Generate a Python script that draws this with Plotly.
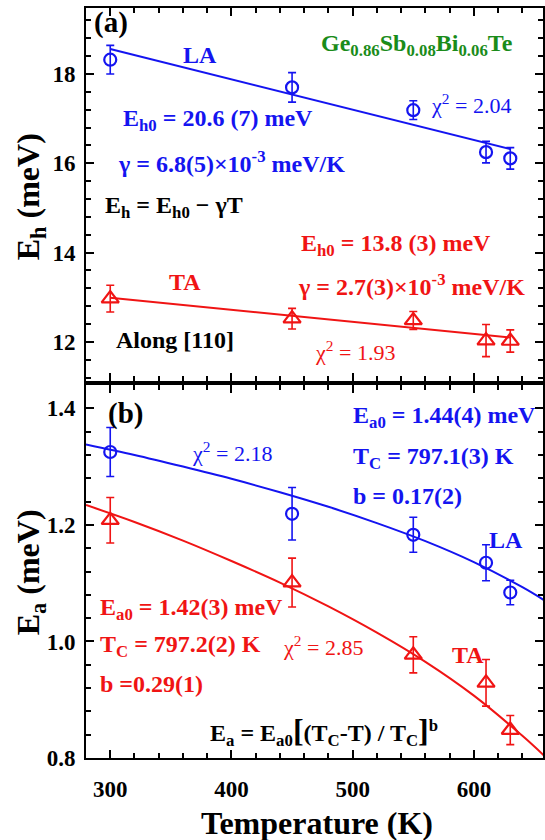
import plotly.graph_objects as go

# ---------------- data ----------------
T_pts = [300, 450, 550, 610, 630]

Eh_LA = [18.32, 17.70, 17.19, 16.25, 16.11]
Eh_LA_err = [0.32, 0.33, 0.21, 0.24, 0.24]
Eh_TA = [12.97, 12.52, 12.48, 12.03, 12.02]
Eh_TA_err = [0.30, 0.23, 0.20, 0.36, 0.25]

Ea_LA = [1.325, 1.219, 1.183, 1.135, 1.084]
Ea_LA_err = [0.042, 0.045, 0.030, 0.031, 0.021]
Ea_TA = [1.208, 1.101, 0.977, 0.929, 0.848]
Ea_TA_err = [0.039, 0.042, 0.031, 0.040, 0.025]

fit_T_lin = [300, 630]
fit_Eh_LA = [18.56, 16.32]
fit_Eh_TA = [12.99, 12.10]

fit_T_curve = [280, 320, 360, 400, 440, 480, 520, 560, 600, 640, 660]
fit_Ea_LA = [1.338, 1.320, 1.300, 1.279, 1.256, 1.231, 1.203, 1.172, 1.136, 1.093, 1.068]
fit_Ea_TA = [1.234, 1.205, 1.173, 1.138, 1.101, 1.060, 1.015, 0.965, 0.907, 0.838, 0.800]

x_ticks = [300, 400, 500, 600]

# ---------------- style ----------------
BLUE = "#1414f0"
RED = "#f01414"
GREEN = "#1a8c1a"
FONT = "Liberation Serif"

W, H = 545, 840
ML, MR, MT, MB = 86, 0, 8, 82
PW = W - ML - MR
PH = H - MT - MB

fig = go.Figure()


def err(vals, color):
    return dict(type="data", array=vals, visible=True, color=color, thickness=1.6, width=4)


# top panel
fig.add_trace(go.Scatter(x=fit_T_lin, y=fit_Eh_LA, mode="lines", line=dict(color=BLUE, width=2),
                         xaxis="x", yaxis="y", showlegend=False))
fig.add_trace(go.Scatter(x=fit_T_lin, y=fit_Eh_TA, mode="lines", line=dict(color=RED, width=2),
                         xaxis="x", yaxis="y", showlegend=False))
fig.add_trace(go.Scatter(x=T_pts, y=Eh_LA, mode="markers", error_y=err(Eh_LA_err, BLUE),
                         marker=dict(symbol="circle-open", size=12, color=BLUE, line=dict(width=2.2, color=BLUE)),
                         xaxis="x", yaxis="y", showlegend=False))
fig.add_trace(go.Scatter(x=T_pts, y=Eh_TA, mode="markers", error_y=err(Eh_TA_err, RED),
                         marker=dict(symbol="triangle-up-open", size=15, color=RED, line=dict(width=2.2, color=RED)),
                         xaxis="x", yaxis="y", showlegend=False))

# bottom panel
fig.add_trace(go.Scatter(x=fit_T_curve, y=fit_Ea_LA, mode="lines", line=dict(color=BLUE, width=2, shape="spline"),
                         xaxis="x2", yaxis="y2", showlegend=False))
fig.add_trace(go.Scatter(x=fit_T_curve, y=fit_Ea_TA, mode="lines", line=dict(color=RED, width=2, shape="spline"),
                         xaxis="x2", yaxis="y2", showlegend=False))
fig.add_trace(go.Scatter(x=T_pts, y=Ea_LA, mode="markers", error_y=err(Ea_LA_err, BLUE),
                         marker=dict(symbol="circle-open", size=12, color=BLUE, line=dict(width=2.2, color=BLUE)),
                         xaxis="x2", yaxis="y2", showlegend=False))
fig.add_trace(go.Scatter(x=T_pts, y=Ea_TA, mode="markers", error_y=err(Ea_TA_err, RED),
                         marker=dict(symbol="triangle-up-open", size=15, color=RED, line=dict(width=2.2, color=RED)),
                         xaxis="x2", yaxis="y2", showlegend=False))

tickfont = dict(family=FONT, size=23, color="black", weight="bold")


def xax(showlabels, anchor):
    return dict(range=[280, 657], tickmode="array", tickvals=x_ticks, ticks="inside", ticklen=8, tickwidth=2,
                minor=dict(dtick=20, tick0=300, ticks="inside", ticklen=5, tickwidth=1.5, tickcolor="black"),
                showline=True, linewidth=2, linecolor="black", mirror="allticks", showgrid=False,
                zeroline=False, showticklabels=showlabels, tickfont=tickfont, tickcolor="black",
                ticklabelstandoff=9, anchor=anchor)


def yax(rng, dtick, tick0, mdt, dom, anchor, fmt):
    return dict(range=rng, dtick=dtick, tick0=tick0, ticks="inside", ticklen=8, tickwidth=2,
                minor=dict(dtick=mdt, ticks="inside", ticklen=5, tickwidth=1.5, tickcolor="black"),
                showline=True, linewidth=2, linecolor="black", mirror="allticks", showgrid=False,
                zeroline=False, tickfont=tickfont, tickcolor="black", domain=dom, anchor=anchor,
                tickformat=fmt, ticklabelstandoff=4)


def py2paper(py):
    return (H - MB - py) / PH


def px2paper(px):
    return (px - ML) / PW


top_dom = [py2paper(381), 1.0]
bot_dom = [0.0, py2paper(385)]

annotations = []


def ann(text, px, py, color, size=24, bold=True, xanchor="left", angle=0):
    annotations.append(dict(text=text, x=px2paper(px), y=py2paper(py), xref="paper", yref="paper",
                            xanchor=xanchor, yanchor="middle", showarrow=False, textangle=angle,
                            font=dict(family=FONT, size=size, color=color,
                                      weight="bold" if bold else "normal")))


# top panel texts
ann("(a)", 92, 22, "black", size=29)
ann("LA", 200, 55, BLUE, size=24, xanchor="center")
ann("Ge<sub>0.86</sub>Sb<sub>0.08</sub>Bi<sub>0.06</sub>Te", 320, 45, GREEN, size=24)
ann("E<sub>h0</sub> = 20.6 (7) meV", 121, 120, BLUE)
ann("γ = 6.8(5)×10<sup>-3</sup> meV/K", 116, 162, BLUE)
ann("χ<sup>2</sup> = 2.04", 431, 104, BLUE, size=22, bold=False)
ann("E<sub>h</sub> = E<sub>h0</sub> − γT", 103, 207, "black")
ann("E<sub>h0</sub> = 13.8 (3) meV", 300, 245, RED)
ann("γ = 2.7(3)×10<sup>-3</sup> meV/K", 297, 285, RED)
ann("TA", 185, 282, RED, size=24, xanchor="center")
ann("Along [110]", 114, 340, "black")
ann("χ<sup>2</sup> = 1.93", 314, 351, RED, size=22, bold=False)

# bottom panel texts
ann("(b)", 106, 413, "black", size=29)
ann("E<sub>a0</sub> = 1.44(4) meV", 352, 417, BLUE)
ann("χ<sup>2</sup> = 2.18", 190, 452, BLUE, size=22, bold=False)
ann("T<sub>C</sub> = 797.1(3) K", 352, 458, BLUE)
ann("b = 0.17(2)", 352, 496, BLUE)
ann("LA", 508, 540, BLUE, size=24, xanchor="center")
ann("E<sub>a0</sub> = 1.42(3) meV", 98, 609, RED)
ann("T<sub>C</sub> = 797.2(2) K", 98, 646, RED)
ann("b =0.29(1)", 98, 684, RED)
ann("χ<sup>2</sup> = 2.85", 282, 646, RED, size=22, bold=False)
ann("TA", 470, 655, RED, size=24, xanchor="center")
ann("E<sub>a</sub> = E<sub>a0</sub><span style='font-size:32px'>[</span>(T<sub>C</sub>-T) / T<sub>C</sub>"
    "<span style='font-size:32px'>]</span><sup>b</sup>", 209, 731, "black")

# axis titles
ann("Temperature (K)", 318, 823, "black", size=32, xanchor="center")
ann("E<sub>h</sub> (meV)", 30, 197, "black", size=32, xanchor="center", angle=-90)
ann("E<sub>a</sub> (meV)", 30, 572, "black", size=32, xanchor="center", angle=-90)

fig.update_layout(
    width=W, height=H,
    margin=dict(l=ML, r=MR, t=MT, b=MB, pad=0),
    paper_bgcolor="white", plot_bgcolor="white",
    xaxis=xax(False, "y"),
    xaxis2=xax(True, "y2"),
    yaxis=yax([11.124, 19.478], 2, 12, 0.4, top_dom, "x", ""),
    yaxis2=yax([0.8, 1.44], 0.2, 0.8, 0.04, bot_dom, "x2", ".1f"),
    annotations=annotations,
    showlegend=False,
)

fig.write_html("out.html")
